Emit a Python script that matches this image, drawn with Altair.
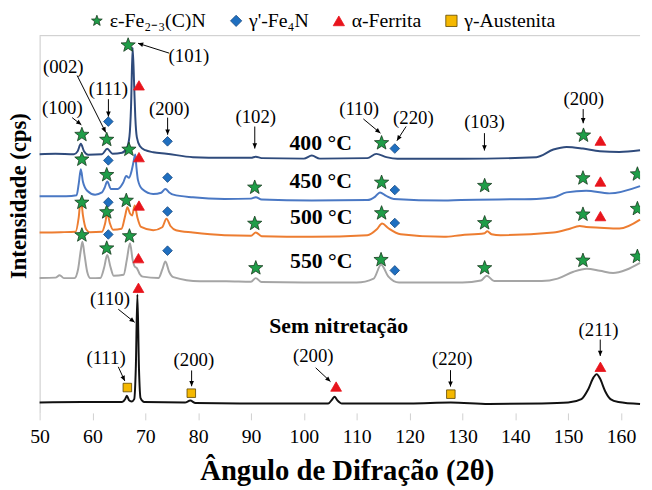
import math
import altair as alt
import pandas as pd

# ---------------- layout constants ----------------
W, H = 608, 382
X_DOMAIN = [50, 163.6]
Y_DOMAIN = [0, 382]
SERIF = "Liberation Serif"

# ---------------- diffractogram curves (2theta, intensity) ----------------
theta_400 = [50, 53, 56.5, 57.2, 57.8, 58.4, 59.2, 61.8, 62.8, 63.8, 65.6, 66.5, 67.0, 67.3, 67.6,
             67.9, 68.1, 68.4, 69, 70, 71.5, 74, 79, 85, 90, 90.9, 92, 100, 101.5, 103, 112, 113.7,
             115.6, 117.7, 130, 144, 147.2, 149.7, 152.8, 156, 159.7, 163.6]
int_400 = [262, 262.5, 262, 265, 272.5, 265, 261.5, 262, 267.5, 262.5, 263.5, 268, 280, 310, 370,
           330, 300, 279, 270, 266, 264, 262.5, 259, 258.3, 258.3, 259.5, 258, 257.5, 260.7, 257.5,
           258, 262.3, 259, 257.3, 257.3, 259, 266.7, 269.3, 267.7, 265, 264.3, 266]

theta_450 = [50, 55, 57.0, 57.4, 57.8, 58.2, 59, 60.5, 61.8, 62.3, 62.8, 63.5, 64.8, 65.8, 66.4,
             66.9, 67.4, 67.8, 68.1, 68.3, 68.6, 69.4, 71.5, 73.0, 73.8, 74.6, 75.3, 79, 85, 90,
             90.9, 92, 101.5, 112, 113.5, 114.4, 115.5, 117, 126.5, 129.7, 144, 147.3, 149.7, 153.4,
             157.8, 163.6]
int_450 = [219.3, 219.5, 220.5, 232, 246.7, 234, 225, 221, 223.3, 228, 234.3, 226.7, 226.7, 233, 240,
           238, 245, 255, 261.7, 250, 236, 226.7, 221.7, 223, 226.7, 223, 221, 218.3, 216.7, 217,
           218.5, 216, 215, 215.5, 219, 223.3, 220, 216.7, 215, 215.7, 216.7, 218.3, 223.3, 225,
           222.3, 229.7]

theta_500 = [50, 54, 56.8, 57.4, 57.8, 58.2, 58.8, 59.5, 61.8, 62.4, 62.8, 63.3, 63.9, 65.5, 66.2,
             66.6, 67.1, 67.5, 68.0, 68.5, 69.2, 71.5, 73.2, 74, 74.8, 75.8, 79, 85, 90, 90.9, 92,
             101.5, 112, 113.8, 114.8, 116, 118.3, 126.5, 129.7, 134.2, 134.7, 135.5, 137.2, 147.2,
             150, 152.2, 153.4, 156, 159.7, 163.6]
int_500 = [182.7, 183, 183.5, 198, 217, 200, 186, 183, 183.5, 192, 202, 192, 185.5, 186.5, 200,
           208.3, 202, 200, 210, 198, 188.3, 185, 188, 196.7, 189, 185, 182.7, 180, 179.5, 182.7, 179,
           178.3, 180, 186, 191.7, 187, 181, 178.3, 180, 182, 184, 181, 180, 182.7,
           186, 189.3, 188.3, 187.5, 186.7, 195.7]

theta_550 = [50, 53, 53.8, 54.6, 56.6, 57.3, 57.8, 58.1, 58.5, 59.0, 59.6, 61.5, 62.2, 62.8, 63.4,
             64, 65.9, 66.5, 67.1, 67.6, 68.0, 68.4, 68.9, 69.5, 72.5, 73.2, 73.8, 74.5, 75.3, 80.3,
             85.3, 90, 90.9, 92, 100, 110, 113.2, 114.6, 116, 118, 130, 133.5, 134.6, 136, 145, 148,
             151, 153.5, 156, 158.5, 161, 163.6]
int_550 = [136.7, 137, 139.5, 136.5, 136.5, 146, 165, 173.3, 160, 143, 136.5, 136.7, 147, 160, 148,
           139, 140, 155, 171.7, 155, 148.3, 146.7, 141, 138, 136.7, 145, 153.3, 143, 137.5, 133.3,
           133.3, 132.8, 136.5, 132.5, 132, 132, 136, 150, 138, 132, 132, 134, 139, 133.5, 133.5, 136,
           143, 146, 144, 141.7, 145, 152]

theta_sem = [50, 58, 65.6, 66.2, 66.5, 66.9, 67.4, 67.9, 68.2, 68.5, 68.8, 69.1, 69.8, 77.5, 78.5,
             79.5, 90, 104.6, 105.4, 105.8, 106.3, 107.2, 120, 127.8, 135, 145, 150, 152.5, 153.8,
             154.8, 155.4, 156.0, 157, 158, 159.5, 163.6]
int_sem = [10.5, 11, 11, 14, 17.5, 13, 11.5, 14, 45, 120, 45, 15, 11, 10.5, 12.5,
           10, 9.5, 9.5, 14, 16.5, 13, 9.5, 9.5, 10.5, 9, 9.5, 10.5, 14, 24,
           36, 39.3, 35, 22, 14, 11, 9]

series_names = ["400 °C", "450 °C", "500 °C", "550 °C", "Sem nitretação"]
series_colors = ["#2f4b7c", "#4a78c4", "#ed7d31", "#a5a5a5", "#111111"]
series_widths = [2.0, 2.0, 2.0, 2.0, 2.6]

# ---------------- phase markers ----------------
STAR = ("M0,-1L0.247,-0.34L0.951,-0.309L0.399,0.13L0.588,0.809L0,0.42L-0.588,0.809"
        "L-0.399,0.13L-0.951,-0.309L-0.247,-0.34Z")
phases = ["ε-Fe₂₋₃(C)N", "γ'-Fe₄N", "α-Ferrita", "γ-Austenita"]
phase_shapes = [STAR, "diamond", "triangle-up", "square"]
phase_fill = ["#1f9d48", "#1f6fc0", "#e8141c", "#f5b800"]
phase_stroke = ["#183a1e", "#1a4a80", "#e8141c", "#5c4600"]
phase_size = [230, 95, 120, 75]

star_theta = [58.0, 62.7, 66.75, 114.7, 152.9,
              58.0, 62.7, 66.9, 90.7, 114.7, 134.2, 152.8, 163.1,
              58.0, 62.7, 66.4, 90.7, 114.7, 134.2, 152.8, 163.1,
              58.0, 62.7, 67.0, 90.9, 114.6, 134.2, 152.8, 163.1]
star_int = [281.7, 276.7, 372.3, 273.3, 281,
            256.7, 241, 266.7, 228.3, 233.3, 230, 237.7, 241.7,
            213, 203.3, 215, 191.7, 202.3, 192.3, 201, 206.7,
            180, 166.7, 179, 146.7, 155, 146.7, 154.3, 158.3]
diamond_theta = [63.0, 74.2, 117.2, 63.0, 74.2, 117.2, 63.0, 74.2, 117.2, 63.0, 74.2, 117.2]
diamond_int = [295, 275, 267.7, 255.7, 238.3, 225.7, 213.3, 204, 192.3, 180.7, 164.3, 144.3]
tri_theta = [68.8, 156.1, 68.8, 156.1, 68.8, 156.1, 68.7, 68.7, 106.1, 156.1]
tri_int = [331.7, 275.7, 259, 234.3, 210, 199.3, 156.7, 126.7, 26.7, 46.7]
sq_theta = [66.6, 78.7, 127.8]
sq_int = [25.7, 20, 19]

# ---------------- annotations ----------------
hkl_labels = ["(101)", "(002)", "(111)", "(100)", "(200)", "(102)", "(110)", "(220)", "(103)", "(200)",
              "(110)", "(111)", "(200)", "(200)", "(220)", "(211)"]
hkl_theta = [78.25, 54.48, 63.02, 54.30, 74.52, 90.90, 110.45, 120.72, 134.16, 152.95,
             63.31, 62.57, 79.19, 101.78, 128.06, 155.75]
hkl_int = [361, 350, 328.3, 309, 307.7, 300, 307.7, 299, 294.3, 318.3,
           115.7, 55.7, 53.3, 57.7, 55, 84.3]
arrow_theta1 = [74.52, 57.10, 63.02, 56.16, 74.22, 90.71, 111.25, 119.34, 134.16, 152.84,
                64.88, 64.88, 78.76, 102.23, 127.74, 156.07]
arrow_int1 = [364.3, 341.7, 317.7, 299, 299, 290, 297.7, 290, 283.3, 307.7,
              105, 46.7, 43, 45.7, 43.3, 74.3]
arrow_theta2 = [68.62, 62.51, 63.02, 57.90, 74.22, 90.71, 114.48, 117.60, 134.16, 152.84,
                67.98, 66.12, 78.76, 105.03, 127.74, 156.07]
arrow_int2 = [374.3, 284, 300, 291.7, 281.7, 267.7, 283.3, 275.7, 265.7, 293.3,
              91.7, 32.3, 27, 31.7, 26.7, 57.7]

temp_labels = ["400 °C", "450 °C", "500 °C", "550 °C", "Sem nitretação"]
temp_theta = [103.17, 103.17, 103.28, 103.28, 106.58]
temp_int = [273.3, 235, 198.3, 153.3, 88.3]

# ---------------- tables ----------------
line_rows = []
for name, th, it in zip(series_names,
                        [theta_400, theta_450, theta_500, theta_550, theta_sem],
                        [int_400, int_450, int_500, int_550, int_sem]):
    for t, v in zip(th, it):
        line_rows.append({"series": name, "theta": t, "intensity": v})
df_lines = pd.DataFrame(line_rows)

marker_rows = []
for ph, sz, th, it in zip(phases, phase_size, [star_theta, diamond_theta, tri_theta, sq_theta],
                          [star_int, diamond_int, tri_int, sq_int]):
    for t, v in zip(th, it):
        marker_rows.append({"phase": ph, "msize": sz, "theta": t, "intensity": v})
df_markers = pd.DataFrame(marker_rows)

sx = W / (X_DOMAIN[1] - X_DOMAIN[0])
sy = H / (Y_DOMAIN[1] - Y_DOMAIN[0])
arrow_rows = []
for a, b, c, d in zip(arrow_theta1, arrow_int1, arrow_theta2, arrow_int2):
    dx = (c - a) * sx
    dy = -(d - b) * sy
    ang = math.degrees(math.atan2(-dx, dy)) % 360
    arrow_rows.append({"x1": a, "y1": b, "xe": c, "ye": d, "angle": ang})
df_arrows = pd.DataFrame(arrow_rows)

df_hkl = pd.DataFrame({"label": hkl_labels, "theta": hkl_theta, "intensity": hkl_int})
df_temp = pd.DataFrame({"label": temp_labels, "theta": temp_theta, "intensity": temp_int})
df_frame = pd.DataFrame({"edge": ["top"]})

# ---------------- scales / axes ----------------
xscale = alt.Scale(domain=X_DOMAIN, nice=False, zero=False)
yscale = alt.Scale(domain=Y_DOMAIN, nice=False, zero=False)

x_axis = alt.Axis(values=list(range(50, 170, 10)), labelFont=SERIF, labelFontSize=20,
                  labelColor="black", tickColor="#d0d0d0", tickSize=7, domain=False, grid=False,
                  labelPadding=7, labelFlush=False, labelOverlap=False,
                  title="Ângulo de Difração (2θ)", titleFont=SERIF, titleFontSize=29,
                  titleFontWeight="bold", titleColor="black", titlePadding=10, titleX=311)
y_axis = alt.Axis(labels=False, ticks=False, grid=False, domain=True, domainColor="#c8c8c8",
                  title="Intensidade (cps)", titleFont=SERIF, titleFontSize=23,
                  titleFontWeight="bold", titleColor="black", titleX=-9, titleY=162,
                  titleAngle=270, titleBaseline="bottom")

lines = alt.Chart(df_lines).mark_line(interpolate="monotone").encode(
    x=alt.X("theta:Q", scale=xscale, axis=x_axis),
    y=alt.Y("intensity:Q", scale=yscale, axis=y_axis),
    color=alt.Color("series:N", scale=alt.Scale(domain=series_names, range=series_colors), legend=None),
    strokeWidth=alt.StrokeWidth("series:N", scale=alt.Scale(domain=series_names, range=series_widths),
                                legend=None),
)

frame = alt.Chart(df_frame).mark_rule(color="#c8c8c8", strokeWidth=1).encode(
    y=alt.value(0), x=alt.value(0), x2=alt.value(W)
)

rules = alt.Chart(df_arrows).mark_rule(color="black", strokeWidth=1).encode(
    x=alt.X("x1:Q", scale=xscale),
    y=alt.Y("y1:Q", scale=yscale),
    x2="xe:Q", y2="ye:Q",
)

heads = alt.Chart(df_arrows).mark_point(shape="M0,0L-0.45,-1L0.45,-1Z", filled=True, color="black",
                                        opacity=1, size=110).encode(
    x=alt.X("xe:Q", scale=xscale),
    y=alt.Y("ye:Q", scale=yscale),
    angle=alt.Angle("angle:Q", scale=None),
)

leg = alt.Legend(orient="none", legendX=48, legendY=-25, direction="horizontal", title=None,
                 labelFont=SERIF, labelFontSize=20, labelColor="black", symbolSize=130,
                 columnPadding=20, labelOffset=3, symbolStrokeWidth=0.8)
markers = alt.Chart(df_markers).mark_point(filled=True, opacity=1, strokeWidth=0.8, clip=True).encode(
    x=alt.X("theta:Q", scale=xscale),
    y=alt.Y("intensity:Q", scale=yscale),
    shape=alt.Shape("phase:N", scale=alt.Scale(domain=phases, range=phase_shapes), legend=leg),
    fill=alt.Fill("phase:N", scale=alt.Scale(domain=phases, range=phase_fill), legend=leg),
    stroke=alt.Stroke("phase:N", scale=alt.Scale(domain=phases, range=phase_stroke), legend=leg),
    size=alt.Size("msize:Q", scale=None),
)

hkl = alt.Chart(df_hkl).mark_text(font=SERIF, fontSize=19, color="black", align="center",
                                  baseline="middle").encode(
    x=alt.X("theta:Q", scale=xscale),
    y=alt.Y("intensity:Q", scale=yscale),
    text="label:N",
)

temps = alt.Chart(df_temp).mark_text(font=SERIF, fontSize=22, fontWeight="bold", color="black",
                                     align="center", baseline="middle").encode(
    x=alt.X("theta:Q", scale=xscale),
    y=alt.Y("intensity:Q", scale=yscale),
    text="label:N",
)

chart = alt.layer(lines, frame, rules, heads, markers, hkl, temps).properties(
    width=W, height=H, padding=0, background="white"
).configure_view(stroke=None).configure_legend(
    labelFont=SERIF, labelFontSize=20, labelColor="black", symbolSize=130,
    columnPadding=20, labelOffset=3, symbolStrokeWidth=0.8
)

chart.save("out.html", embed_options={"renderer": "svg", "actions": False})
